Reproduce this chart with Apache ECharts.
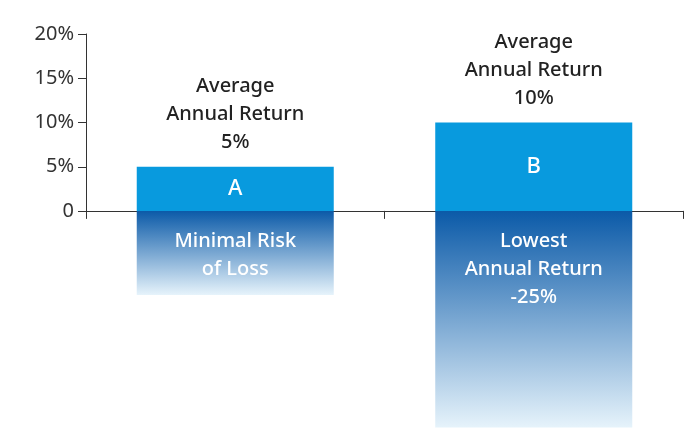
<!DOCTYPE html>
<html><head><meta charset="utf-8">
<script src="https://cdn.jsdelivr.net/npm/echarts@6/dist/echarts.min.js"></script>
<style>html,body{margin:0;padding:0;background:#fff}#c{width:700px;height:443px}</style>
</head><body><div id="c"></div>
<script>
const categories = ['A', 'B'];
const returnValues = [5, 10];
const lossValues = [-9.5, -24.5];
const topLabels = ['Average\nAnnual Return\n5%', 'Average\nAnnual Return\n10%'];
const lossLabels = ['Minimal Risk\nof Loss', 'Lowest\nAnnual Return\n-25%'];
const yTicks = [0, 5, 10, 15, 20];

const font = 'Noto Sans';
const chart = echarts.init(document.getElementById('c'));
chart.setOption({
  animation: false,
  textStyle: { fontFamily: font },
  grid: [
    { left: 86, right: 17, top: 34, bottom: 11 },
    { left: 86, right: 17, top: 34, bottom: 232 }
  ],
  xAxis: [
    { type: 'category', gridIndex: 0, data: categories, position: 'bottom',
      axisLine: { onZero: true, lineStyle: { color: '#333', width: 1 } },
      axisTick: { show: true, length: 8, lineStyle: { color: '#333' } },
      axisLabel: { show: false } },
    { type: 'category', gridIndex: 1, data: categories, show: false }
  ],
  yAxis: [
    { type: 'value', gridIndex: 0, min: -25, max: 20, interval: 5,
      axisLine: { show: false }, axisTick: { show: false }, axisLabel: { show: false },
      splitLine: { show: false } },
    { type: 'value', gridIndex: 1, min: 0, max: 20, interval: 5,
      axisLine: { show: true, lineStyle: { color: '#333' } },
      axisTick: { show: true, length: 8, lineStyle: { color: '#333' } },
      axisLabel: { color: '#333', fontSize: 20, margin: 12,
        formatter: v => yTicks.includes(v) ? (v === 0 ? '0' : v + '%') : '' },
      splitLine: { show: false } }
  ],
  series: [
    { type: 'bar', stack: 's', barWidth: '66%', data: returnValues,
      itemStyle: { color: '#089ade' },
      label: { show: true, position: 'inside', color: '#fff', fontSize: 22, fontWeight: 500,
        formatter: p => categories[p.dataIndex] } },
    { type: 'bar', stack: 's', barWidth: '66%', data: returnValues.map(() => 0.0001),
      itemStyle: { color: 'transparent' },
      label: { show: true, position: 'top', color: '#222', fontSize: 20, fontWeight: 500, lineHeight: 28,
        distance: 10, formatter: p => topLabels[p.dataIndex] } },
    { type: 'bar', stack: 's', barWidth: '66%', data: lossValues,
      itemStyle: { color: new echarts.graphic.LinearGradient(0, 0, 0, 1, [
        { offset: 0, color: '#0b5aa8' }, { offset: 1, color: '#e6f3fb' }]) },
      label: { show: true, position: 'insideTop', color: '#fff', fontSize: 20, fontWeight: 500, lineHeight: 28,
        distance: 16, formatter: p => lossLabels[p.dataIndex] } }
  ]
});
</script></body></html>
